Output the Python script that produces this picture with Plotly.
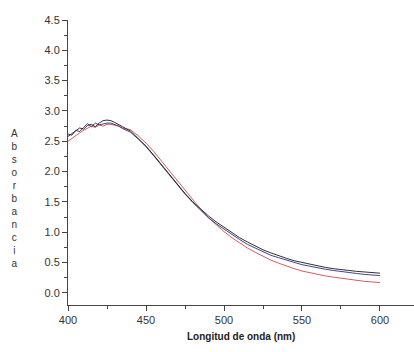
import plotly.graph_objects as go

wavelength = [400, 402.5, 405, 407.5, 410, 412.5, 415, 417.5, 420, 422.5, 425, 427.5, 430, 432.5, 435,
              440, 445, 450, 455, 460, 465, 470, 475, 480, 485, 490, 495, 500, 505, 510, 515, 520,
              525, 530, 535, 540, 545, 550, 555, 560, 565, 570, 575, 580, 585, 590, 595, 600]

abs_black = [2.58, 2.63, 2.67, 2.72, 2.70, 2.76, 2.78, 2.74, 2.80, 2.84, 2.85, 2.84, 2.81, 2.78, 2.74,
             2.67, 2.55, 2.42, 2.27, 2.11, 1.95, 1.79, 1.64, 1.50, 1.38, 1.27, 1.17, 1.08, 0.99, 0.91,
             0.84, 0.77, 0.71, 0.66, 0.61, 0.57, 0.53, 0.50, 0.47, 0.45, 0.42, 0.40, 0.38, 0.37, 0.355,
             0.345, 0.335, 0.325]

abs_blue = [2.62, 2.60, 2.68, 2.66, 2.73, 2.79, 2.74, 2.80, 2.77, 2.79, 2.80, 2.80, 2.78, 2.75, 2.71,
            2.65, 2.54, 2.41, 2.26, 2.10, 1.94, 1.78, 1.63, 1.49, 1.36, 1.24, 1.14, 1.05, 0.96, 0.88,
            0.80, 0.74, 0.68, 0.62, 0.58, 0.54, 0.50, 0.465, 0.44, 0.41, 0.39, 0.37, 0.35, 0.335, 0.32,
            0.305, 0.295, 0.285]

abs_red = [2.50, 2.55, 2.60, 2.64, 2.68, 2.71, 2.75, 2.73, 2.77, 2.75, 2.78, 2.78, 2.77, 2.75, 2.72,
           2.69, 2.59, 2.47, 2.33, 2.17, 2.01, 1.85, 1.69, 1.53, 1.38, 1.24, 1.12, 1.01, 0.91, 0.82,
           0.74, 0.67, 0.60, 0.54, 0.49, 0.44, 0.40, 0.36, 0.33, 0.30, 0.28, 0.26, 0.24, 0.22, 0.205,
           0.19, 0.18, 0.17]

y_title_letters = list("Absorbancia")
x_title = "Longitud de onda (nm)"

fig = go.Figure()
for vals, col in [(abs_red, "#d24a4a"), (abs_blue, "#2c2c7c"), (abs_black, "#1a1a1a")]:
    fig.add_trace(go.Scatter(x=wavelength, y=vals, mode="lines",
                             line=dict(color=col, width=0.9), showlegend=False))

axis_font = dict(family="Liberation Sans, Arial, sans-serif", size=11, color="#333333")

fig.update_layout(
    width=414, height=352,
    margin=dict(l=68, r=0, t=20, b=47),
    paper_bgcolor="white", plot_bgcolor="white",
    xaxis=dict(range=[400, 621.8], tickvals=[400, 450, 500, 550, 600],
               showgrid=False, zeroline=False, showline=True, linecolor="#444444", linewidth=1,
               ticks="outside", ticklen=5, tickcolor="#444444", tickfont=axis_font,
               minor=dict(tickvals=[425, 475, 525, 575], ticks="outside", ticklen=3, tickcolor="#444444")),
    yaxis=dict(range=[-0.2, 4.5], tickvals=[0, 0.5, 1, 1.5, 2, 2.5, 3, 3.5, 4, 4.5],
               ticktext=["0.0", "0.5", "1.0", "1.5", "2.0", "2.5", "3.0", "3.5", "4.0", "4.5"],
               showgrid=False, zeroline=False, showline=True, linecolor="#444444", linewidth=1,
               ticks="outside", ticklen=5, tickcolor="#444444", tickfont=axis_font,
               minor=dict(tickvals=[0.25, 0.75, 1.25, 1.75, 2.25, 2.75, 3.25, 3.75, 4.25],
                          ticks="outside", ticklen=3, tickcolor="#444444")),
    annotations=[
        dict(text="<br>".join(y_title_letters), xref="paper", yref="paper",
             x=-0.171, y=0.372, showarrow=False, align="center",
             font=dict(family="Liberation Sans, Arial, sans-serif", size=10, color="#333333")),
        dict(text="<b>" + x_title + "</b>", xref="paper", yref="paper",
             x=0.5, y=-0.112, showarrow=False, yanchor="middle",
             font=dict(family="Liberation Sans, Arial, sans-serif", size=10, color="#222222")),
    ],
)

fig.write_html("out.html", config={"displayModeBar": False},
               post_script="document.body.style.margin='0px';")
